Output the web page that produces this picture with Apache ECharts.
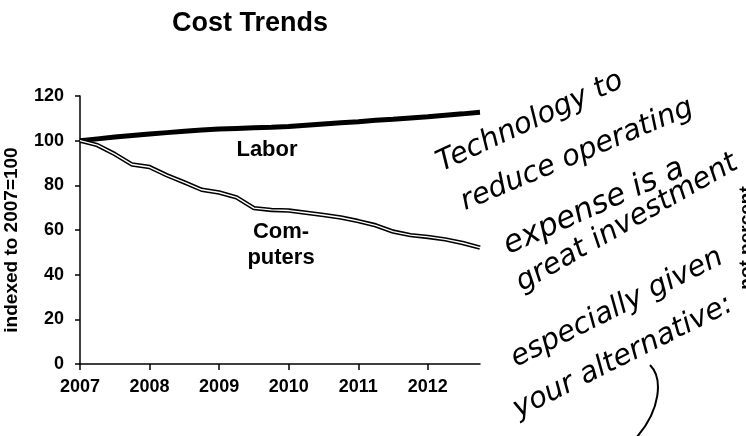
<!DOCTYPE html>
<html>
<head>
<meta charset="utf-8">
<script src="https://cdn.jsdelivr.net/npm/echarts@6/dist/echarts.min.js"></script>
<style>html,body{margin:0;padding:0;background:#fff}#c{width:746px;height:436px}</style>
</head>
<body>
<div id="c"></div>
<script>
var quarters = [2007.00,2007.25,2007.50,2007.75,2008.00,2008.25,2008.50,2008.75,2009.00,2009.25,2009.50,2009.75,2010.00,2010.25,2010.50,2010.75,2011.00,2011.25,2011.50,2011.75,2012.00,2012.25,2012.50,2012.75];
var labor = [100,100.8,101.6,102.3,103.0,103.6,104.2,104.8,105.2,105.5,105.8,106.0,106.3,106.9,107.5,108.0,108.5,109.1,109.6,110.2,110.7,111.4,112.0,112.7];
var computers = [100,98.0,94.0,89.3,88.2,84.5,81.3,78.0,76.8,74.6,69.8,69.0,68.7,67.7,66.7,65.6,64.0,62.1,59.3,57.7,56.9,55.8,54.2,52.1];
var yearTicks = [2007,2008,2009,2010,2011,2012];
var noteLines = ['Technology to','reduce operating','expense is a','great investment','especially given','your alternative:'];

function pairs(xs, ys){ return xs.map(function(x,i){ return [x, ys[i]]; }); }

var chart = echarts.init(document.getElementById('c'), null, {renderer:'canvas'});
var F = 'Liberation Sans, Arial, sans-serif';
var H = 'DejaVu Sans, sans-serif';
var deg = Math.PI/180;
var notePos = [[530,122,25,29],[577,155,22.8,29],[594,207,24.2,31],[627,223,29.7,29],[617,308,26.6,29],[623,357,26.6,29]];
var graphics = [
  {type:'text', style:{text:'Cost Trends', x:250, y:24, align:'center', verticalAlign:'middle', font:'bold 27px '+F, fill:'#000'}},
  {type:'text', rotation:Math.PI/2, x:12, y:240, style:{text:'indexed to 2007=100', align:'center', verticalAlign:'middle', font:'bold 19px '+F, fill:'#000'}},
  {type:'text', x:267, y:150, style:{text:'Labor', align:'center', verticalAlign:'middle', font:'bold 22px '+F, fill:'#000'}},
  {type:'text', x:281, y:232, style:{text:'Com-', align:'center', verticalAlign:'middle', font:'bold 22px '+F, fill:'#000'}},
  {type:'text', x:281, y:258, style:{text:'puters', align:'center', verticalAlign:'middle', font:'bold 22px '+F, fill:'#000'}},
  {type:'text', rotation:Math.PI/2, x:747, y:238, style:{text:'not percent', align:'center', verticalAlign:'middle', font:'bold 19px '+F, fill:'#000'}},
  {type:'bezierCurve', shape:{x1:650,y1:365,cpx1:663,cpy1:378,cpx2:661,cpy2:410,x2:636,y2:438}, style:{stroke:'#000', lineWidth:2, fill:null}}
];
noteLines.forEach(function(t,i){
  var p = notePos[i];
  graphics.push({type:'text', x:p[0], y:p[1], rotation:p[2]*deg,
    style:{text:t, align:'center', verticalAlign:'middle', font:'oblique '+p[3]+'px '+H, fill:'#000'}});
});

chart.setOption({
  backgroundColor:'#fff',
  animation:false,
  grid:{left:80, right:266, top:96, bottom:72, containLabel:false},
  xAxis:{
    type:'value', min:2007, max:2012.75, interval:1,
    splitLine:{show:false},
    axisLine:{show:true, lineStyle:{color:'#000', width:1.5}},
    axisTick:{show:true, length:6, customValues:yearTicks, lineStyle:{color:'#000', width:1.5}},
    axisLabel:{customValues:yearTicks, margin:14, color:'#000', fontFamily:F, fontWeight:'bold', fontSize:18, formatter:function(v){return String(v);}}
  },
  yAxis:{
    type:'value', min:0, max:120, interval:20,
    splitLine:{show:false},
    axisLine:{show:true, lineStyle:{color:'#000', width:1.5}},
    axisTick:{show:true, length:5, lineStyle:{color:'#000', width:1.5}},
    axisLabel:{margin:16, color:'#000', fontFamily:F, fontWeight:'bold', fontSize:18}
  },
  series:[
    {type:'line', name:'Labor', data:pairs(quarters, labor), showSymbol:false, symbol:'none', smooth:false,
      lineStyle:{color:'#000', width:5}, z:3},
    {type:'line', name:'Computers', data:pairs(quarters, computers), showSymbol:false, symbol:'none',
      lineStyle:{color:'#000', width:4.5}, z:2},
    {type:'line', name:'Computers inner', data:pairs(quarters, computers), showSymbol:false, symbol:'none',
      lineStyle:{color:'#fff', width:1.4}, z:4}
  ],
  graphic:graphics
});
</script>
</body>
</html>
